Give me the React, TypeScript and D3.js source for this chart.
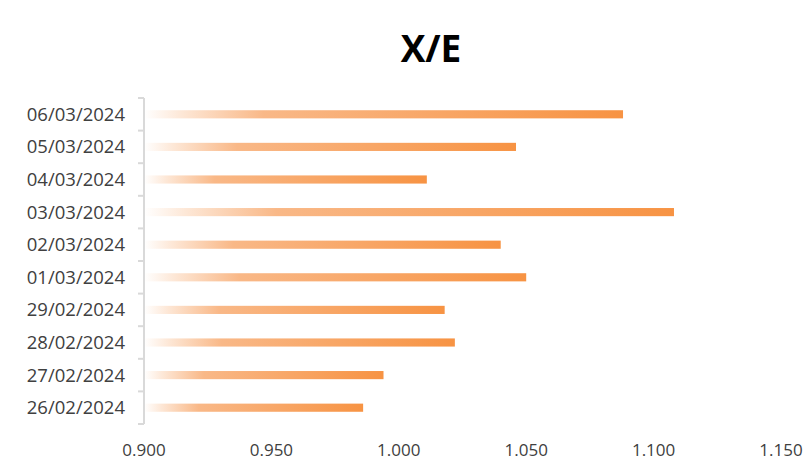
import React from "react";
import * as d3 from "d3";

const dates = [
  "26/02/2024",
  "27/02/2024",
  "28/02/2024",
  "29/02/2024",
  "01/03/2024",
  "02/03/2024",
  "03/03/2024",
  "04/03/2024",
  "05/03/2024",
  "06/03/2024",
];
const ratios = [0.986, 0.994, 1.022, 1.018, 1.05, 1.04, 1.108, 1.011, 1.046, 1.088];
const xTicks = [0.9, 0.95, 1.0, 1.05, 1.1, 1.15];
const title = "X/E";

const W = 807;
const H = 461;

export default function App() {
  const x = d3.scaleLinear().domain([0.9, 1.15]).range([144, 781]);
  const top = 98;
  const bottom = 424;
  const y = d3
    .scaleBand<string>()
    .domain([...dates].reverse())
    .range([top, bottom])
    .paddingInner(0.75)
    .paddingOuter(0.375);
  const fmt = d3.format(".3f");
  const step = y.step();
  const boundaries = d3.range(dates.length + 1).map((i) => top + i * step);
  const font = "'Open Sans', sans-serif";

  return (
    <svg
      width={W}
      height={H}
      style={{ position: "absolute", left: 0, top: 0, background: "#fff" }}
    >
      <defs>
        <linearGradient id="barFill" x1="0" x2="1" y1="0" y2="0">
          <stop offset="0" stopColor="#ffffff" />
          <stop offset="0.08" stopColor="#fde7d6" />
          <stop offset="0.25" stopColor="#f9b887" />
          <stop offset="1" stopColor="#f79343" />
        </linearGradient>
      </defs>
      <text
        x={431}
        y={62}
        textAnchor="middle"
        fontFamily={font}
        fontWeight={700}
        fontSize={37}
        fill="#000"
      >
        {title}
      </text>

      {dates.map((d, i) => (
        <rect
          key={d}
          x={x(0.9)}
          y={y(d)!}
          width={x(ratios[i]) - x(0.9)}
          height={y.bandwidth()}
          fill="url(#barFill)"
        />
      ))}

      <g stroke="#d9d9d9" strokeWidth={2} fill="none">
        <line x1={x(0.9)} x2={x(0.9)} y1={top} y2={bottom} />
        {boundaries.map((b, i) => (
          <line key={i} x1={x(0.9) - 6} x2={x(0.9)} y1={b} y2={b} />
        ))}
      </g>

      {dates.map((d) => (
        <text
          key={d}
          x={125}
          y={y(d)! + y.bandwidth() / 2}
          dy="0.35em"
          textAnchor="end"
          fontFamily={font}
          fontSize={18.5}
          fill="#404040"
        >
          {d}
        </text>
      ))}

      {xTicks.map((t) => (
        <text
          key={t}
          x={x(t)}
          y={456}
          textAnchor="middle"
          fontFamily={font}
          fontSize={17}
          fill="#404040"
        >
          {fmt(t)}
        </text>
      ))}
    </svg>
  );
}
